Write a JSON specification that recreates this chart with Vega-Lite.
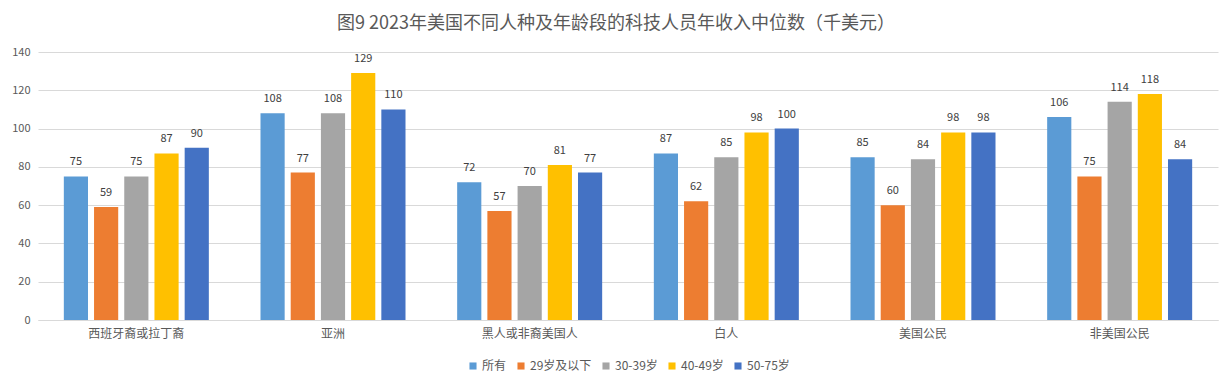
{
  "$schema": "https://vega.github.io/schema/vega-lite/v6.json",
  "width": 1180,
  "height": 268,
  "autosize": {"type": "none"},
  "padding": {"left": 38, "top": 52, "right": 14, "bottom": 64},
  "background": "white",
  "title": {
    "text": "图9 2023年美国不同人种及年龄段的科技人员年收入中位数（千美元）",
    "font": "Noto Sans CJK SC",
    "fontSize": 18,
    "fontWeight": "normal",
    "color": "#595959",
    "anchor": "middle",
    "dx": -12,
    "offset": 13
  },
  "data": {
    "values": [
      {"group": "西班牙裔或拉丁裔", "age": "所有", "value": 75},
      {"group": "西班牙裔或拉丁裔", "age": "29岁及以下", "value": 59},
      {"group": "西班牙裔或拉丁裔", "age": "30-39岁", "value": 75},
      {"group": "西班牙裔或拉丁裔", "age": "40-49岁", "value": 87},
      {"group": "西班牙裔或拉丁裔", "age": "50-75岁", "value": 90},
      {"group": "亚洲", "age": "所有", "value": 108},
      {"group": "亚洲", "age": "29岁及以下", "value": 77},
      {"group": "亚洲", "age": "30-39岁", "value": 108},
      {"group": "亚洲", "age": "40-49岁", "value": 129},
      {"group": "亚洲", "age": "50-75岁", "value": 110},
      {"group": "黑人或非裔美国人", "age": "所有", "value": 72},
      {"group": "黑人或非裔美国人", "age": "29岁及以下", "value": 57},
      {"group": "黑人或非裔美国人", "age": "30-39岁", "value": 70},
      {"group": "黑人或非裔美国人", "age": "40-49岁", "value": 81},
      {"group": "黑人或非裔美国人", "age": "50-75岁", "value": 77},
      {"group": "白人", "age": "所有", "value": 87},
      {"group": "白人", "age": "29岁及以下", "value": 62},
      {"group": "白人", "age": "30-39岁", "value": 85},
      {"group": "白人", "age": "40-49岁", "value": 98},
      {"group": "白人", "age": "50-75岁", "value": 100},
      {"group": "美国公民", "age": "所有", "value": 85},
      {"group": "美国公民", "age": "29岁及以下", "value": 60},
      {"group": "美国公民", "age": "30-39岁", "value": 84},
      {"group": "美国公民", "age": "40-49岁", "value": 98},
      {"group": "美国公民", "age": "50-75岁", "value": 98},
      {"group": "非美国公民", "age": "所有", "value": 106},
      {"group": "非美国公民", "age": "29岁及以下", "value": 75},
      {"group": "非美国公民", "age": "30-39岁", "value": 114},
      {"group": "非美国公民", "age": "40-49岁", "value": 118},
      {"group": "非美国公民", "age": "50-75岁", "value": 84}
    ]
  },
  "encoding": {
    "x": {
      "field": "group",
      "type": "nominal",
      "sort": null,
      "scale": {"paddingInner": 0, "paddingOuter": 0},
      "axis": {
        "title": null,
        "labelAngle": 0,
        "labelFont": "Noto Sans CJK SC",
        "labelFontSize": 12,
        "labelColor": "#595959",
        "labelPadding": 8,
        "ticks": false,
        "domainColor": "#D9D9D9",
        "domainWidth": 1
      }
    },
    "xOffset": {
      "field": "age",
      "type": "nominal",
      "sort": ["所有", "29岁及以下", "30-39岁", "40-49岁", "50-75岁"],
      "scale": {"paddingInner": 0.2, "paddingOuter": 0.855}
    },
    "y": {
      "field": "value",
      "type": "quantitative",
      "scale": {"domain": [0, 140]},
      "axis": {
        "title": null,
        "values": [0, 20, 40, 60, 80, 100, 120, 140],
        "labelFont": "Noto Sans CJK SC",
        "labelFontSize": 11,
        "labelColor": "#595959",
        "labelPadding": 8,
        "ticks": false,
        "domain": false,
        "gridColor": "#D9D9D9",
        "gridWidth": 1
      }
    }
  },
  "layer": [
    {
      "mark": {"type": "bar"},
      "encoding": {
        "color": {
          "field": "age",
          "type": "nominal",
          "sort": ["所有", "29岁及以下", "30-39岁", "40-49岁", "50-75岁"],
          "scale": {
            "domain": ["所有", "29岁及以下", "30-39岁", "40-49岁", "50-75岁"],
            "range": ["#5B9BD5", "#ED7D31", "#A5A5A5", "#FFC000", "#4472C4"]
          },
          "legend": {
            "title": null,
            "orient": "bottom",
            "direction": "horizontal",
            "symbolType": "square",
            "symbolSize": 50,
            "symbolStrokeWidth": 0,
            "labelFont": "Noto Sans CJK SC",
            "labelFontSize": 12,
            "labelColor": "#595959",
            "labelOffset": 3,
            "columnPadding": 8,
            "offset": 21
          }
        }
      }
    },
    {
      "mark": {
        "type": "text",
        "dy": -14,
        "font": "Noto Sans CJK SC",
        "fontSize": 11,
        "color": "#404040"
      },
      "encoding": {
        "text": {"field": "value", "type": "quantitative"}
      }
    }
  ],
  "config": {
    "view": {"stroke": null},
    "legend": {"layout": {"bottom": {"anchor": "middle"}}}
  }
}
